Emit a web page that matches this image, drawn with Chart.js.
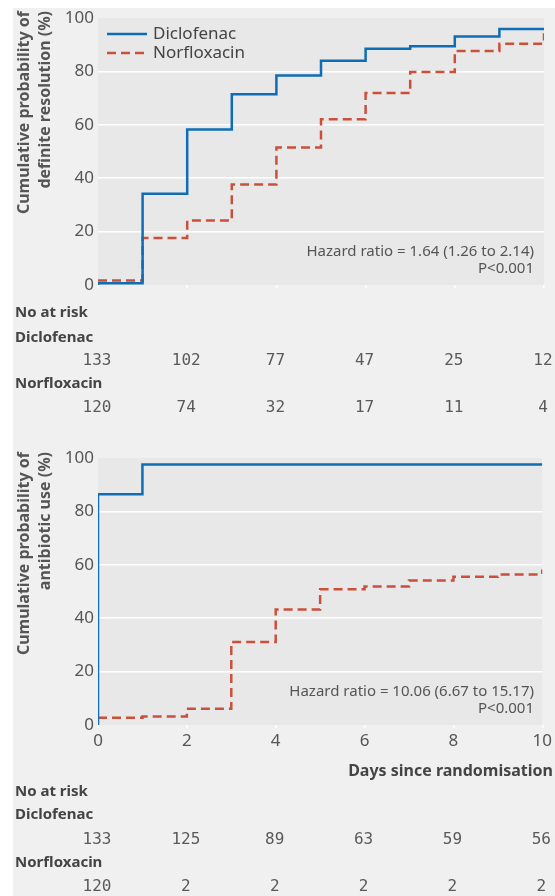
<!DOCTYPE html>
<html>
<head>
<meta charset="utf-8">
<script src="https://cdn.jsdelivr.net/npm/chart.js@4.4.1/dist/chart.umd.min.js"></script>
<style>
  html, body { margin: 0; padding: 0; background: #ffffff; }
  #wrap { position: relative; width: 555px; height: 896px; overflow: hidden; }
  #panel { position: absolute; left: 13px; top: 8px; width: 542px; height: 888px; background: #f0f0f0; }
  #c1 { position: absolute; left: 0; top: 0; }
  #c2 { position: absolute; left: 0; top: 440px; }
</style>
</head>
<body>
<div id="wrap">
  <div id="panel"></div>
  <canvas id="c1" width="555" height="430"></canvas>
  <canvas id="c2" width="555" height="456"></canvas>
</div>
<script>
// ---------- data ----------
const seriesNames = ['Diclofenac', 'Norfloxacin'];

// Panel 1: cumulative probability of definite resolution (%)
const resolDiclofenacDays = [0, 0, 1, 2, 3, 4, 5, 6, 7, 8, 9, 10];
const resolDiclofenacPct  = [0, 0.7, 34.2, 58.2, 71.4, 78.5, 84.0, 88.5, 89.4, 93.1, 95.9, 95.9];
const resolNorfloxacinDays = [0, 1, 2, 3, 4, 5, 6, 7, 8, 9, 10];
const resolNorfloxacinPct  = [1.7, 17.6, 24.2, 37.6, 51.5, 62.1, 71.9, 79.8, 87.6, 90.4, 94.3];

// Panel 2: cumulative probability of antibiotic use (%)
const abxDiclofenacDays = [0, 0, 1, 10];
const abxDiclofenacPct  = [0, 86.4, 97.6, 97.6];
const abxNorfloxacinDays = [0, 1, 2, 3, 4, 5, 6, 7, 8, 9, 10];
const abxNorfloxacinPct  = [2.7, 3.2, 6.1, 31.1, 43.3, 50.8, 51.9, 54.1, 55.5, 56.4, 58.2];

// Numbers at risk
const riskDays = [0, 2, 4, 6, 8, 10];
const riskResolDiclofenac  = [133, 102, 77, 47, 25, 12];
const riskResolNorfloxacin = [120, 74, 32, 17, 11, 4];
const riskAbxDiclofenac    = [133, 125, 89, 63, 59, 56];
const riskAbxNorfloxacin   = [120, 2, 2, 2, 2, 2];

const yTicks = [0, 20, 40, 60, 80, 100];
const xTicks = [0, 2, 4, 6, 8, 10];

const yTitle1 = ['Cumulative probability of', 'definite resolution (%)'];
const yTitle2 = ['Cumulative probability of', 'antibiotic use (%)'];
const hr1 = ['Hazard ratio = 1.64 (1.26 to 2.14)', 'P<0.001'];
const hr2 = ['Hazard ratio = 10.06 (6.67 to 15.17)', 'P<0.001'];
const xTitle = 'Days since randomisation';
const riskHeader = 'No at risk';

// ---------- styling ----------
const BLUE = '#0f6db6';
const RED = '#c9503b';
const FONT = '"Noto Sans", "DejaVu Sans", sans-serif';
Chart.defaults.font.family = FONT;
Chart.defaults.color = '#555';

function pts(xs, ys) { return xs.map((x, i) => ({ x: x, y: ys[i] })); }

const annotate = {
  id: 'annotate',
  beforeDraw(chart) {
    const { ctx, chartArea: a } = chart;
    ctx.save();
    ctx.fillStyle = '#e8e8e8';
    ctx.fillRect(a.left, a.top, a.right - a.left, a.bottom - a.top);
    ctx.restore();
  },
  afterDraw(chart, args, o) {
    const ctx = chart.ctx;
    const xs = chart.scales.x;
    ctx.save();
    // y-axis title (two lines, rotated, end-aligned at top)
    ctx.fillStyle = '#555';
    ctx.font = 'bold 16px ' + FONT;
    ctx.textAlign = 'right';
    ctx.textBaseline = 'middle';
    o.yTitle.forEach((t, i) => {
      ctx.save();
      ctx.translate(o.yTitleX[i], o.yTitleEnd);
      ctx.rotate(-Math.PI / 2);
      ctx.fillText(t, 0, 0);
      ctx.restore();
    });
    // legend
    if (o.legend) {
      chart.data.datasets.forEach((ds, i) => {
        const y = o.legendY[i];
        ctx.save();
        ctx.strokeStyle = ds.borderColor;
        ctx.lineWidth = ds.borderWidth;
        ctx.setLineDash(ds.borderDash || []);
        ctx.beginPath();
        ctx.moveTo(o.legendX0, y);
        ctx.lineTo(o.legendX1, y);
        ctx.stroke();
        ctx.restore();
        ctx.fillStyle = '#444';
        ctx.font = '17px ' + FONT;
        ctx.textAlign = 'left';
        ctx.textBaseline = 'middle';
        ctx.fillText(ds.label, o.legendTextX, y);
      });
    }
    // hazard ratio text
    ctx.fillStyle = '#555';
    ctx.font = '15px ' + FONT;
    ctx.textAlign = 'right';
    ctx.textBaseline = 'middle';
    o.hr.forEach((t, i) => ctx.fillText(t, o.hrX, o.hrY[i]));
    // x-axis title
    if (o.xTitle) {
      ctx.font = 'bold 16px ' + FONT;
      ctx.fillStyle = '#444';
      ctx.textAlign = 'right';
      ctx.fillText(o.xTitle, o.xTitleX, o.xTitleY);
    }
    // numbers at risk
    ctx.font = 'bold 15px ' + FONT;
    ctx.fillStyle = '#444';
    ctx.textAlign = 'left';
    ctx.fillText(riskHeader, o.riskLabelX, o.riskY[0]);
    ctx.fillText(seriesNames[0], o.riskLabelX, o.riskY[1]);
    ctx.fillText(seriesNames[1], o.riskLabelX, o.riskY[3]);
    ctx.font = '16px "DejaVu Sans Mono", monospace';
    ctx.fillStyle = '#5a5a5a';
    ctx.textAlign = 'center';
    riskDays.forEach((d, i) => {
      const px = xs.getPixelForValue(d) - 1;
      ctx.fillText(String(o.risk[0][i]), px, o.riskY[2]);
      ctx.fillText(String(o.risk[1][i]), px, o.riskY[4]);
    });
    ctx.restore();
  }
};

function makeChart(id, dA, dB, extra, showXLabels, canvasH, xAxisH) {
  return new Chart(document.getElementById(id), {
    type: 'line',
    data: {
      datasets: [
        { label: seriesNames[0], data: dA, borderColor: BLUE, borderWidth: 2.5, stepped: true,
          pointRadius: 0, fill: false, tension: 0 },
        { label: seriesNames[1], data: dB, borderColor: RED, borderWidth: 2.5, borderDash: [9, 5], stepped: true,
          pointRadius: 0, fill: false, tension: 0 }
      ]
    },
    options: {
      responsive: false,
      animation: false,
      events: [],
      layout: { padding: { left: 0, right: 11, top: 18, bottom: canvasH - 285 - xAxisH } },
      plugins: { legend: { display: false }, tooltip: { enabled: false }, annotate: extra },
      scales: {
        x: {
          type: 'linear', min: 0, max: 10,
          afterBuildTicks: s => { s.ticks = xTicks.map(v => ({ value: v })); },
          afterFit: s => { s.height = xAxisH; },
          border: { display: false },
          grid: { drawOnChartArea: false, drawTicks: true, tickLength: 3, color: '#ffffff', lineWidth: 1.5 },
          ticks: { display: showXLabels, padding: 3, color: '#555', font: { size: 17 }, maxRotation: 0 }
        },
        y: {
          min: 0, max: 100,
          afterBuildTicks: s => { s.ticks = yTicks.map(v => ({ value: v })); },
          afterFit: s => { s.width = 98; },
          border: { display: false },
          grid: {
            drawTicks: false, lineWidth: 1.5,
            color: c => (c.tick && c.tick.value > 0 && c.tick.value < 100) ? '#ffffff' : 'rgba(0,0,0,0)'
          },
          ticks: { padding: 4, color: '#555', font: { size: 17 } }
        }
      }
    },
    plugins: [annotate]
  });
}

makeChart('c1',
  pts(resolDiclofenacDays, resolDiclofenacPct),
  pts(resolNorfloxacinDays, resolNorfloxacinPct),
  {
    yTitle: yTitle1, yTitleX: [24, 45], yTitleEnd: 11,
    legend: true, legendY: [34, 53], legendX0: 107, legendX1: 147, legendTextX: 153,
    hr: hr1, hrX: 534, hrY: [252, 269],
    xTitle: null,
    riskLabelX: 15, riskY: [313, 338, 361, 384, 408],
    risk: [riskResolDiclofenac, riskResolNorfloxacin]
  }, false, 430, 3);

makeChart('c2',
  pts(abxDiclofenacDays, abxDiclofenacPct),
  pts(abxNorfloxacinDays, abxNorfloxacinPct),
  {
    yTitle: yTitle2, yTitleX: [24, 45], yTitleEnd: 12,
    legend: false,
    hr: hr2, hrX: 534, hrY: [252, 269],
    xTitle: xTitle, xTitleX: 553, xTitleY: 331,
    riskLabelX: 15, riskY: [352, 375, 400, 423, 447],
    risk: [riskAbxDiclofenac, riskAbxNorfloxacin]
  }, true, 456, 30);
</script>
</body>
</html>
